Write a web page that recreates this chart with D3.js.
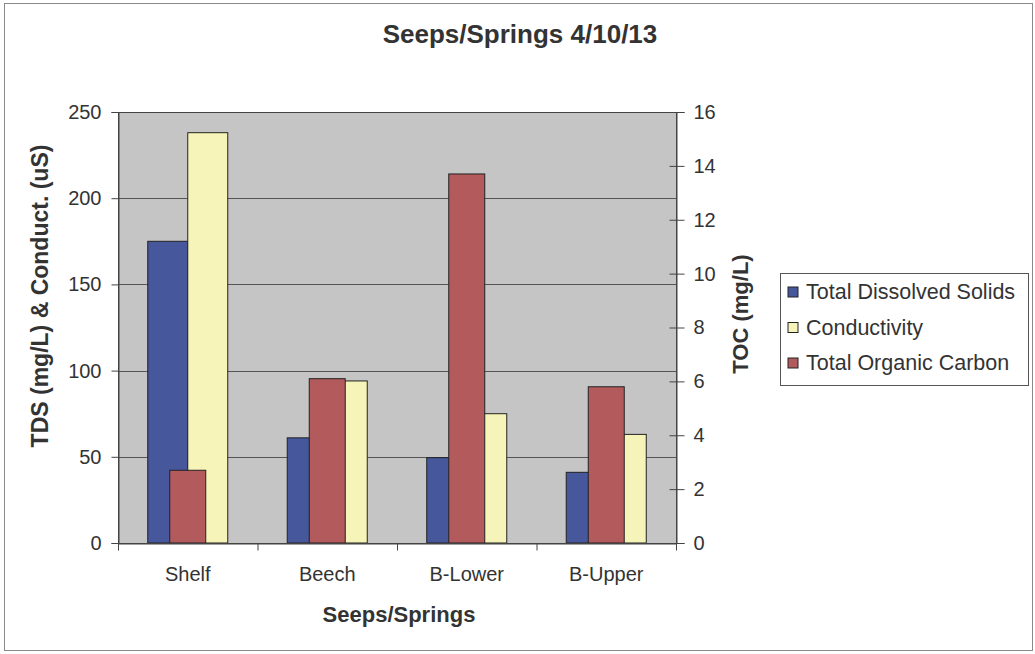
<!DOCTYPE html>
<html><head><meta charset="utf-8">
<script src="https://cdn.jsdelivr.net/npm/d3@7/dist/d3.min.js"></script>
<style>
body{margin:0;background:#fff;}
text{font-family:"Liberation Sans",Arial,sans-serif;fill:#333;}
</style></head>
<body><svg id="c" width="1035" height="654"></svg>
<script>
const categories = ["Shelf","Beech","B-Lower","B-Upper"];
const tds = [175, 61, 49.5, 41];
const conductivity = [238, 94, 75, 63];
const toc = [2.7, 6.1, 13.7, 5.8];
const leftTicks = [0,50,100,150,200,250];
const rightTicks = [0,2,4,6,8,10,12,14,16];
const seriesNames = ["Total Dissolved Solids","Conductivity","Total Organic Carbon"];
const colors = ["#47579c","#f6f4b8","#b35a5d"];

const svg = d3.select("#c");
const m = {left:118, right:676, top:112, bottom:543};

svg.append("rect").attr("x",4.5).attr("y",3.5).attr("width",1028).attr("height",647)
  .attr("fill","#fff").attr("stroke","#8a8a8a").attr("stroke-width",1);

const x = d3.scaleBand().domain(categories).range([m.left,m.right])
  .paddingInner(0.4265).paddingOuter(0.4265/2);
const xFull = d3.scaleBand().domain(categories).range([m.left,m.right]);
const xSub = d3.scaleBand().domain(["tds","cond"]).range([0,x.bandwidth()]);
const xToc = d3.scaleBand().domain(categories).range([m.left,m.right])
  .paddingInner(0.742).paddingOuter(0.742/2);
const yL = d3.scaleLinear().domain([0,250]).range([m.bottom,m.top]);
const yR = d3.scaleLinear().domain([0,16]).range([m.bottom,m.top]);

// plot background
svg.append("rect").attr("x",m.left).attr("y",m.top).attr("width",m.right-m.left)
  .attr("height",m.bottom-m.top).attr("fill","#c5c5c5");
// gridlines
svg.append("g").selectAll("line").data(leftTicks.slice(1)).join("line")
  .attr("x1",m.left).attr("x2",m.right).attr("y1",d=>Math.round(yL(d))+0.5).attr("y2",d=>Math.round(yL(d))+0.5)
  .attr("stroke","#555").attr("stroke-width",1);

const g = svg.append("g");
g.selectAll(".tds").data(categories).join("rect")
  .attr("x",(d)=>x(d)+xSub("tds")).attr("width",xSub.bandwidth())
  .attr("y",(d,i)=>yL(tds[i])).attr("height",(d,i)=>yL(0)-yL(tds[i]))
  .attr("fill",colors[0]).attr("stroke","#222").attr("stroke-width",1);
g.selectAll(".cond").data(categories).join("rect")
  .attr("x",(d)=>x(d)+xSub("cond")).attr("width",xSub.bandwidth())
  .attr("y",(d,i)=>yL(conductivity[i])).attr("height",(d,i)=>yL(0)-yL(conductivity[i]))
  .attr("fill",colors[1]).attr("stroke","#222").attr("stroke-width",1);
g.selectAll(".toc").data(categories).join("rect")
  .attr("x",(d)=>xToc(d)).attr("width",xToc.bandwidth())
  .attr("y",(d,i)=>yR(toc[i])).attr("height",(d,i)=>yR(0)-yR(toc[i]))
  .attr("fill",colors[2]).attr("stroke","#222").attr("stroke-width",1);

// plot border
svg.append("rect").attr("x",m.left+0.5).attr("y",m.top+0.5).attr("width",m.right-m.left)
  .attr("height",m.bottom-m.top).attr("fill","none").attr("stroke","#444");

// left axis
const axL = svg.append("g").attr("transform",`translate(${m.left+0.5},0)`)
  .call(d3.axisLeft(yL).tickValues(leftTicks).tickSize(7).tickPadding(10));
// right axis
const axR = svg.append("g").attr("transform",`translate(${m.right+0.5},0)`)
  .call(d3.axisRight(yR).tickValues(rightTicks).tickSize(8).tickPadding(9));
axR.selectAll(".tick line").attr("x1",-7);
// bottom axis: ticks at category boundaries
const axB = svg.append("g").attr("transform",`translate(0,${m.bottom+0.5})`)
  .call(d3.axisBottom(x).tickSize(0).tickPadding(23));
axB.selectAll(".boundary").data(categories.concat(["end"])).join("line")
  .attr("x1",(d,i)=>(i<categories.length?xFull(d):m.right)+0.5)
  .attr("x2",(d,i)=>(i<categories.length?xFull(d):m.right)+0.5)
  .attr("y1",0).attr("y2",7).attr("stroke","#444");

[axL,axR,axB].forEach(a=>{
  a.select(".domain").attr("stroke","#444");
  a.selectAll(".tick line").attr("stroke","#444");
  a.selectAll("text").style("font-size","20px").style("font-family","Liberation Sans, Arial, sans-serif").attr("fill","#333");
});

// titles
svg.append("text").attr("x",520).attr("y",43).attr("text-anchor","middle")
  .style("font-size","26px").style("font-weight","bold").text("Seeps/Springs 4/10/13");
svg.append("text").attr("x",399).attr("y",622).attr("text-anchor","middle")
  .style("font-size","22px").style("font-weight","bold").text("Seeps/Springs");
svg.append("text").attr("transform","translate(48,296) rotate(-90)").attr("text-anchor","middle")
  .style("font-size","23px").style("font-weight","bold").text("TDS (mg/L) & Conduct. (uS)");
svg.append("text").attr("transform","translate(748,314) rotate(-90)").attr("text-anchor","middle")
  .style("font-size","22px").style("font-weight","bold").text("TOC (mg/L)");

// legend
const lg = svg.append("g");
lg.append("rect").attr("x",780.5).attr("y",273.5).attr("width",248).attr("height",112)
  .attr("fill","#fff").attr("stroke","#555");
const rows = lg.selectAll(".row").data(seriesNames).join("g")
  .attr("transform",(d,i)=>`translate(788,${292+i*35.5})`);
rows.append("rect").attr("x",0).attr("y",-5).attr("width",10).attr("height",10)
  .attr("fill",(d,i)=>colors[i]).attr("stroke","#222");
rows.append("text").attr("x",18).attr("y",7).style("font-size","21.5px").text(d=>d);
</script></body></html>
